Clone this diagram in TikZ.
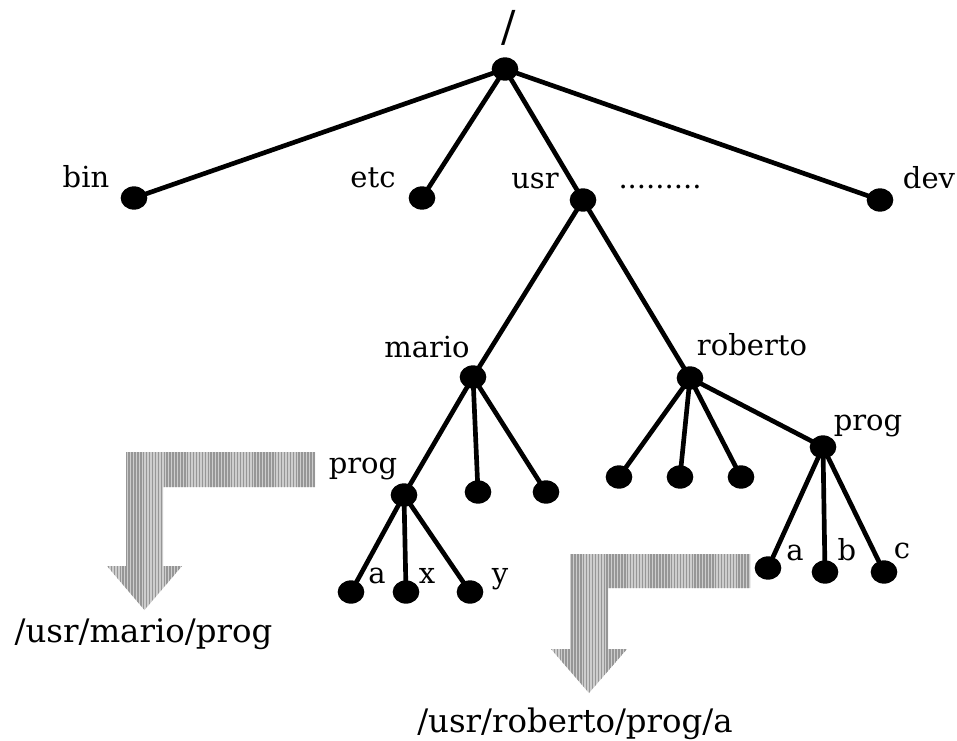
\documentclass[tikz,border=0pt]{standalone}
\usepackage{fontspec}
\setmainfont{DejaVu Serif}
\usetikzlibrary{patterns.meta,backgrounds,shapes.geometric}
\definecolor{lightstripe}{RGB}{205,205,205}
\definecolor{darkstripe}{RGB}{150,150,150}
\begin{document}
\begin{tikzpicture}[x=0.75pt,y=-0.75pt,
  dot/.style={ellipse,fill=black,inner sep=0pt,minimum width=20pt,minimum height=17.5pt},
  lbl/.style={anchor=base,inner sep=0pt,font=\fontsize{21.75}{26}\selectfont},
  pathlbl/.style={anchor=base,inner sep=0pt,font=\fontsize{24.3}{29}\selectfont},
  edgeline/.style={line width=3.5pt},
  bigarrow/.style={fill=lightstripe,postaction={pattern={Lines[angle=90,distance=2.2pt,line width=1.1pt]},pattern color=darkstripe}}
]
\useasboundingbox (0,0) rectangle (957,740);
% dots
\node[dot] (root) at (505,69) {};
\node[dot] (bin) at (134,198) {};
\node[dot] (etc) at (422,198) {};
\node[dot] (usr) at (583,200) {};
\node[dot] (dev) at (880,200) {};
\node[dot] (mario) at (473,377) {};
\node[dot] (roberto) at (690,378) {};
\node[dot] (mprog) at (404,495) {};
\node[dot] (m2) at (478,492) {};
\node[dot] (m3) at (546,492) {};
\node[dot] (r1) at (619,477) {};
\node[dot] (r2) at (680,477) {};
\node[dot] (r3) at (741,477) {};
\node[dot] (rprog) at (823,447) {};
\node[dot] (ma) at (351,592) {};
\node[dot] (mx) at (406,592) {};
\node[dot] (my) at (470,592) {};
\node[dot] (ra) at (768,568) {};
\node[dot] (rb) at (825,572) {};
\node[dot] (rc) at (884,572) {};
% edges
\begin{scope}[on background layer]
\foreach \a/\b in {root/bin,root/etc,root/usr,root/dev,usr/mario,usr/roberto,
  mario/mprog,mario/m2,mario/m3,mprog/ma,mprog/mx,mprog/my,
  roberto/r1,roberto/r2,roberto/r3,roberto/rprog,rprog/ra,rprog/rb,rprog/rc}
  \draw[edgeline] (\a.center) -- (\b.center);
\end{scope}
% labels
\node[inner sep=0pt,font=\fontsize{32}{38}\selectfont] (lroot) at (509,28) {/};
\node[lbl] (lbin) at (86,187) {bin};
\node[lbl] (letc) at (373,187) {etc};
\node[lbl] (lusr) at (535,188) {usr};
\node[lbl] (ldots) at (660,188) {.........};
\node[lbl] (ldev) at (929,188) {dev};
\node[lbl] (lmario) at (427,357) {mario};
\node[lbl] (lroberto) at (752,355) {roberto};
\node[lbl] (lmprog) at (363,473) {prog};
\node[lbl] (lrprog) at (868,430) {prog};
\node[lbl] (lma) at (377,583) {a};
\node[lbl] (lmx) at (427,583) {x};
\node[lbl] (lmy) at (500,583) {y};
\node[lbl] (lra) at (795,560) {a};
\node[lbl] (lrb) at (847,560) {b};
\node[lbl] (lrc) at (902,558) {c};
% big gray arrows
\path[bigarrow] (315,452) -- (126,452) -- (126,566) -- (107,566) -- (144.5,610) -- (182,566) -- (163,566) -- (163,487) -- (315,487) -- cycle;
\path[bigarrow] (750,554) -- (570,554) -- (570,649) -- (551,649) -- (589,693) -- (627,649) -- (608,649) -- (608,588) -- (750,588) -- cycle;
\node[pathlbl] (pmario) at (143.5,642) {/usr/mario/prog};
\node[pathlbl] (proberto) at (575,732) {/usr/roberto/prog/a};
\end{tikzpicture}
\end{document}
